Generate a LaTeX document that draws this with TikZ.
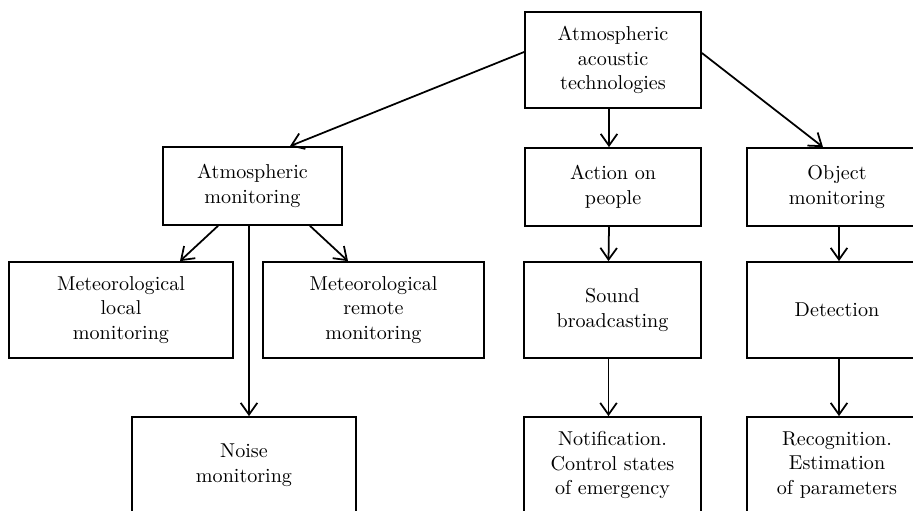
\documentclass[tikz,border=0pt]{standalone}
\usepackage{tikz}
\usetikzlibrary{arrows.meta}
\usetikzlibrary{calc}
\newlength\unitpx
\setlength\unitpx{0.5128pt}
\tikzset{>={Straight Barb[length=6pt,width=8.5pt,line width=0.9pt]},
  box/.style={draw,line width=0.9pt,align=center,inner sep=2pt,
    font=\fontsize{10.3}{12.7}\selectfont},
  arr/.style={->,line width=0.9pt}}

\begin{document}
\begin{tikzpicture}[x=\unitpx,y=-\unitpx,line cap=round]

  \useasboundingbox (0,0) rectangle (913,511);
  \clip (0,0) rectangle (913,511);


  \node [box,minimum width=176\unitpx,minimum height=96\unitpx] (tech) at (613,60)
    {Atmospheric\\acoustic\\technologies};


  \node [box,minimum width=179\unitpx,minimum height=78\unitpx] (atmmon) at (252.5,186)
    {Atmospheric\\monitoring};
  \node [box,minimum width=176\unitpx,minimum height=78\unitpx] (action) at (613,187)
    {Action on\\people};
  \node [box,minimum width=180\unitpx,minimum height=78\unitpx] (object) at (837,187)
    {Object\\monitoring};


  \node [box,minimum width=224\unitpx,minimum height=96\unitpx] (local) at (121,310)
    {Meteorological\\local\\monitoring};
  \node [box,minimum width=221\unitpx,minimum height=96\unitpx] (remote) at (373.5,310)
    {Meteorological\\remote\\monitoring};
  \node [box,minimum width=177\unitpx,minimum height=96\unitpx] (sound) at (612.5,310)
    {Sound\\broadcasting};
  \node [box,minimum width=180\unitpx,minimum height=96\unitpx] (detect) at (837,310)
    {Detection};


  \node [box,minimum width=224\unitpx,minimum height=96\unitpx] (noise) at (244,465)
    {Noise\\monitoring};
  \node [box,minimum width=177\unitpx,minimum height=96\unitpx] (notif) at (612.5,465)
    {Notification.\\Control states\\of emergency};
  \node [box,minimum width=180\unitpx,minimum height=96\unitpx] (recog) at (837,465)
    {Recognition.\\Estimation\\of parameters};



  \draw [arr] ($(tech.west)+(0,-8)$) -- ($(atmmon.north)+(37.5,0)$);
  \draw [arr] ($(tech.south)+(-4,0)$) -- ($(action.north)+(-4,0)$);
  \draw [arr] ($(tech.east)+(0,-7)$) -- ($(object.north)+(-14,0)$);

  \draw [arr] ($(atmmon.south)+(-34.5,0)$) -- ($(local.north)+(59,0)$);
  \draw [arr] ($(atmmon.south)+(57.5,0)$) -- ($(remote.north)+(-25.5,0)$);
  \draw [arr] ($(atmmon.south)+(-3.5,0)$) -- ($(noise.north)+(5,0)$);

  \draw [arr] ($(action.south)+(-4,0)$) -- ($(sound.north)+(-4,0)$);
  \draw [arr] ($(sound.south)+(-4,0)$) -- ($(notif.north)+(-4,0)$);

  \draw [arr] ($(object.south)+(2,0)$) -- ($(detect.north)+(2,0)$);
  \draw [arr] ($(detect.south)+(2,0)$) -- ($(recog.north)+(2,0)$);

\end{tikzpicture}
\end{document}
